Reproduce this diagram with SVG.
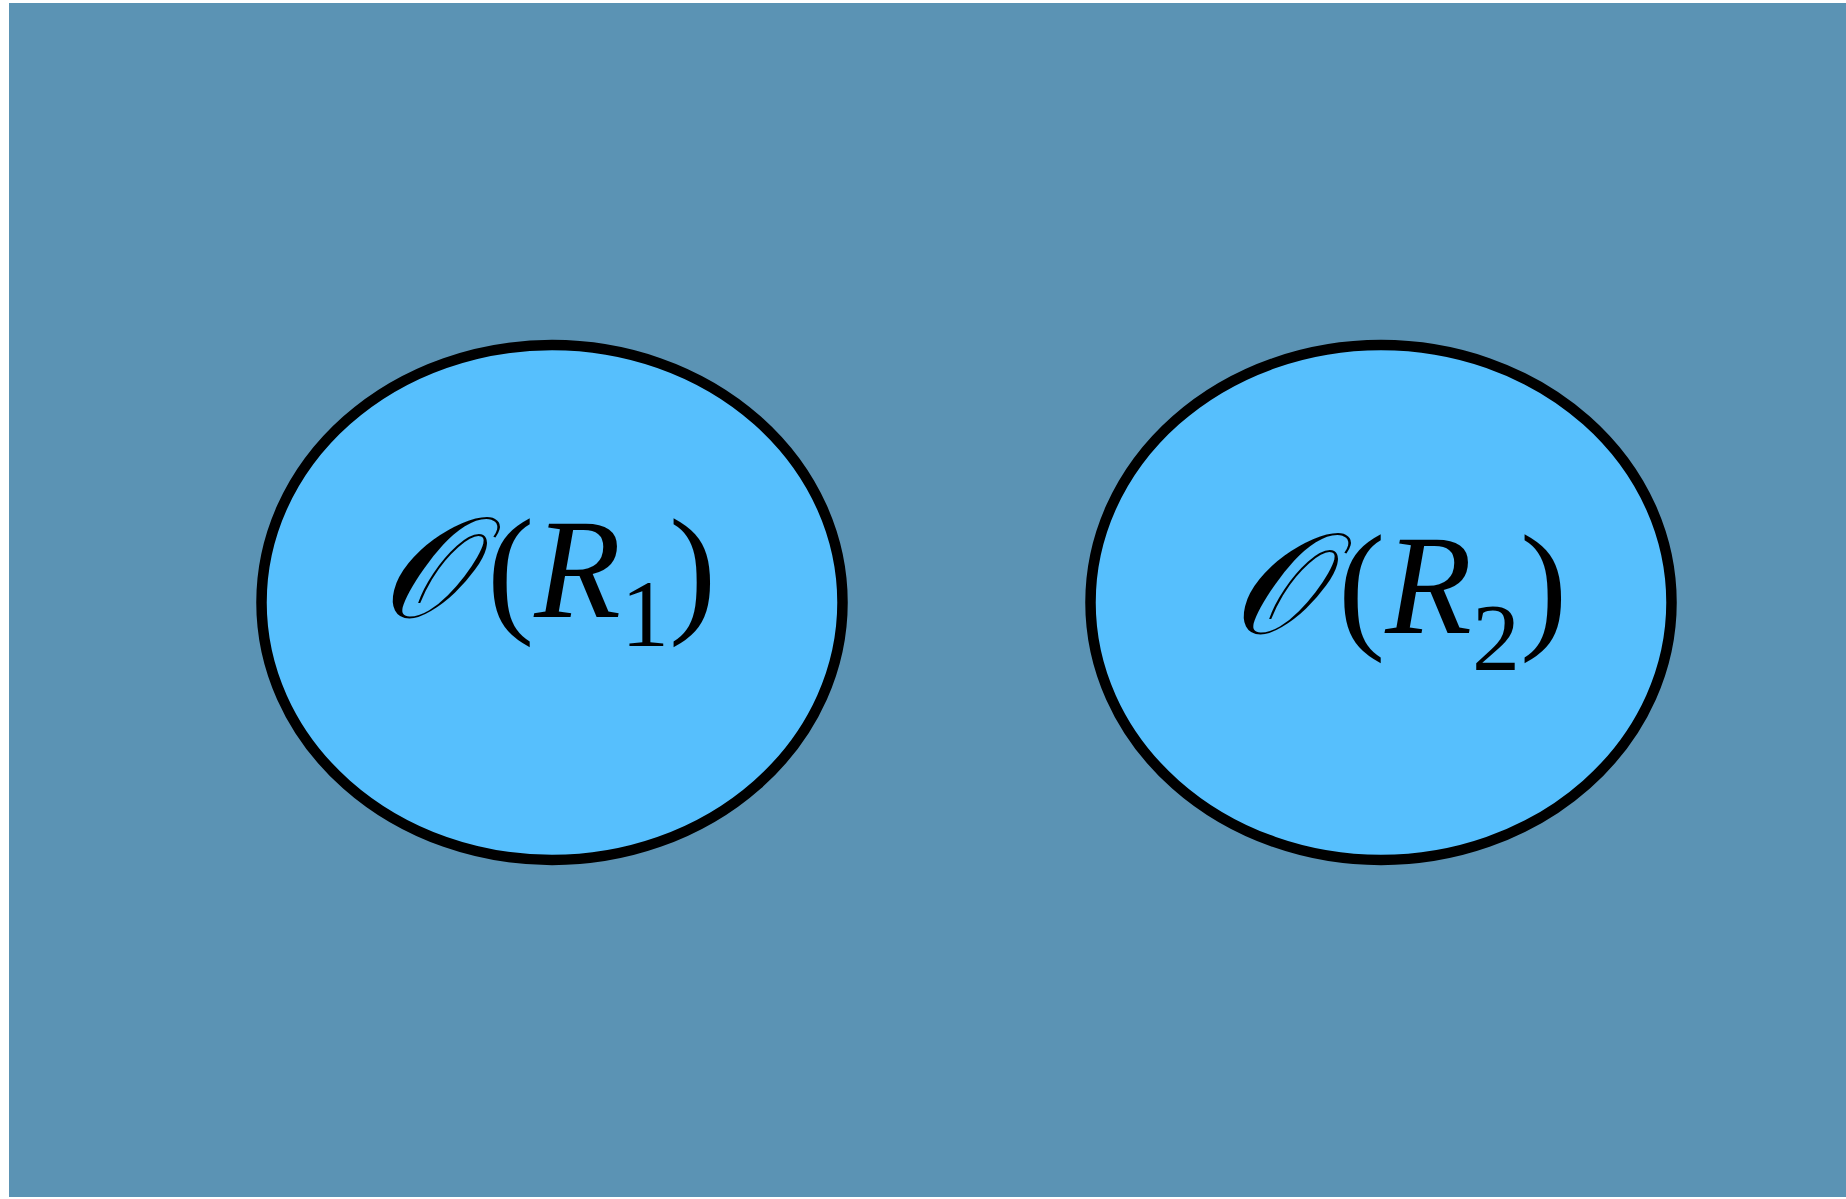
<svg xmlns="http://www.w3.org/2000/svg" width="1846" height="1199" viewBox="0 0 1846 1199">
<style>
.node{fill:#56bffd;stroke:#000;stroke-width:10.5}
.lbl{font-family:"Liberation Serif","DejaVu Serif",serif;font-size:142px;fill:#000}
.it{font-style:italic}
.sub{font-size:96px}
</style>
<rect x="0" y="0" width="1846" height="1199" fill="#ffffff"/>
<rect x="9" y="3" width="1837" height="1194" fill="#5b93b4"/>
<g id="connectors"></g>
<g id="node1">
<ellipse class="node" cx="552" cy="602.5" rx="290.5" ry="257.5"/>
<text class="lbl" x="380" y="617"><tspan class="it">𝒪</tspan><tspan dx="18">(</tspan><tspan class="it">R</tspan><tspan class="sub" dy="29">1</tspan><tspan dy="-29">)</tspan></text>
</g>
<g id="node2">
<ellipse class="node" cx="1381" cy="602.5" rx="290.5" ry="257.5"/>
<text class="lbl" x="1231" y="633"><tspan class="it">𝒪</tspan><tspan dx="18">(</tspan><tspan class="it">R</tspan><tspan class="sub" dy="37">2</tspan><tspan dy="-37">)</tspan></text>
</g>
</svg>
